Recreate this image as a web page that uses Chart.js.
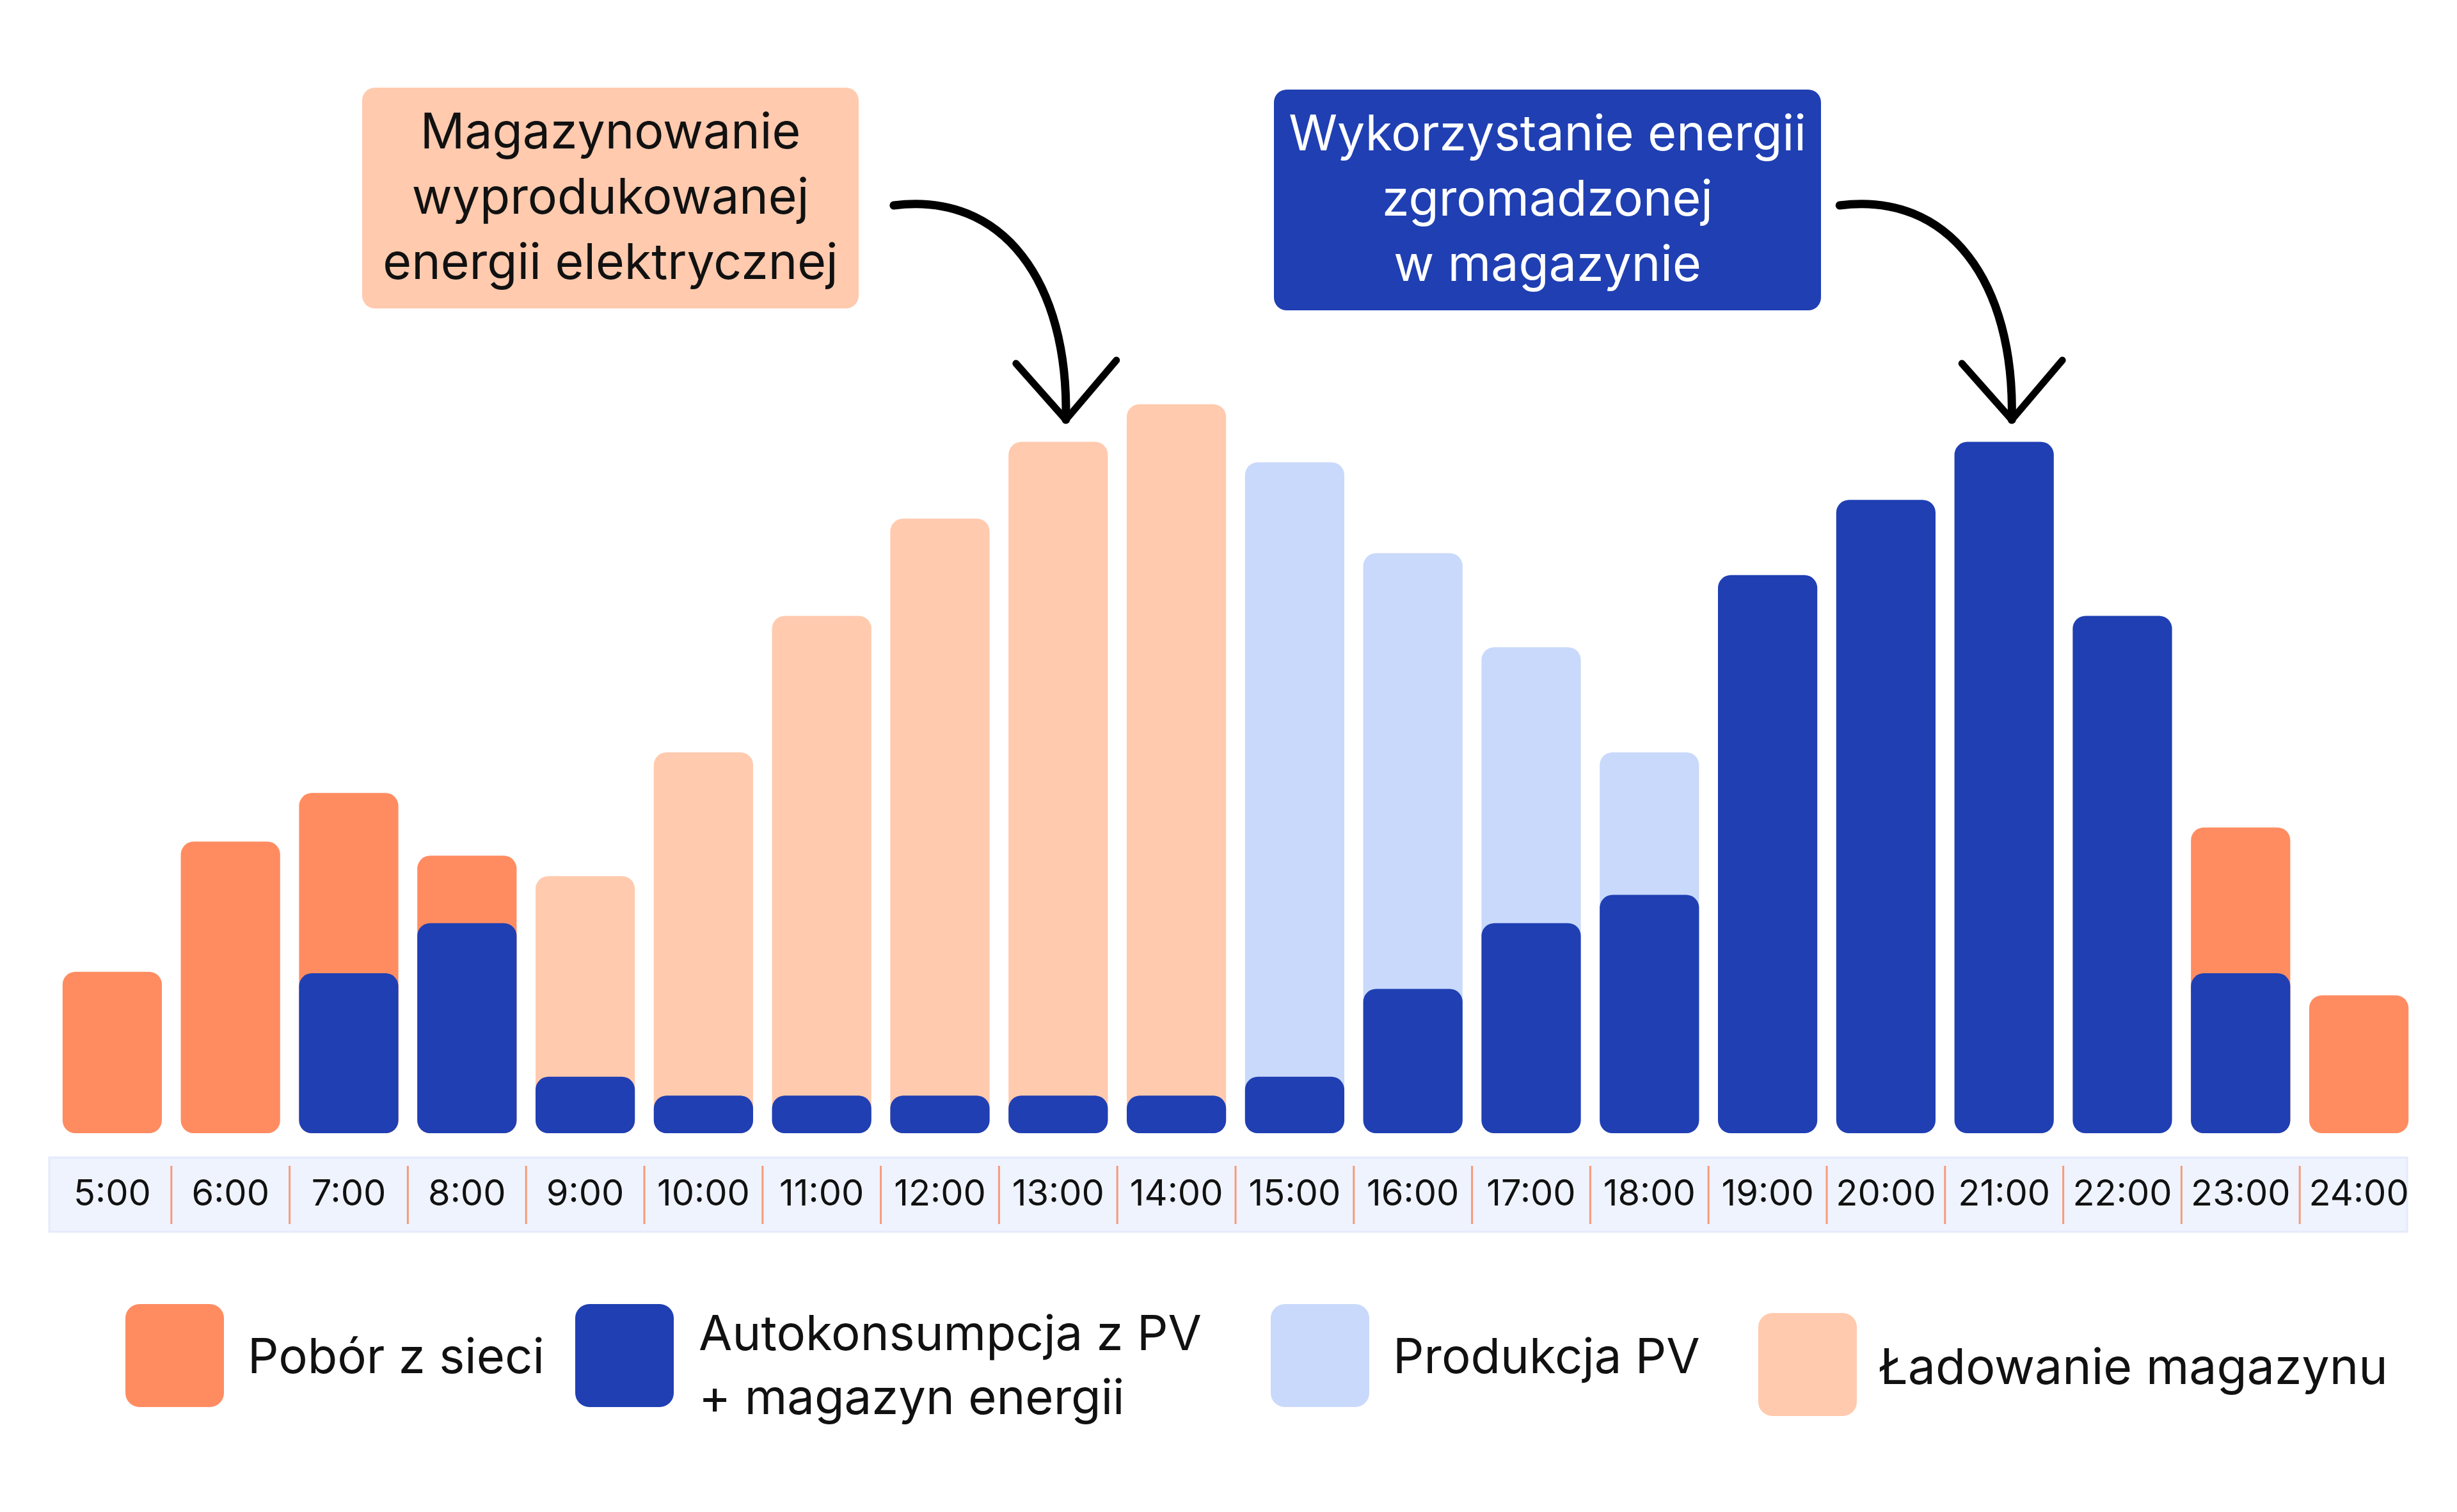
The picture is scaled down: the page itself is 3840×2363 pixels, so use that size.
<!DOCTYPE html>
<html lang="pl">
<head>
  <meta charset="UTF-8">
  <title>Magazyn energii - profil dobowy</title>
  <script src="https://cdn.jsdelivr.net/npm/chart.js"></script>
  <style>
    body { margin: 0; background: #fff; overflow: hidden; font-family: Inter, "Noto Sans", sans-serif; color: #111; }
    #wrap { position: relative; width: 3840px; height: 2363px; }
    #wrap canvas { position: absolute; left: 0; top: 0; }
    .note { position: absolute; box-sizing: border-box; padding-bottom: 8px; border-radius: 20px; font-size: 77px;
            line-height: 102px; text-align: center; display: flex; align-items: center; justify-content: center; }
    .sw { position: absolute; width: 154px; height: 161px; border-radius: 22px; }
    .lt { position: absolute; font-size: 76px; line-height: 100px; white-space: nowrap; }
  </style>
</head>
<body>
  <div id="wrap">
    <canvas id="chart"></canvas>

    <!-- Opisy nad wykresem -->
    <div class="note" style="left:566px; top:137px; width:776px; height:345px; background:#FFCAAE;">
      Magazynowanie<br>wyprodukowanej<br>energii elektrycznej
    </div>
    <div class="note" style="left:1991px; top:140px; width:855px; height:345px; background:#1F3FB3; color:#fff;">
      Wykorzystanie energii<br>zgromadzonej<br>w magazynie
    </div>

    <!-- Legenda -->
    <div class="sw" style="left:196px; top:2038px; background:#FF8C61;"></div>
    <div class="lt" style="left:387px; top:2068px;">Pobór z sieci</div>
    <div class="sw" style="left:899px; top:2038px; background:#1F3FB3;"></div>
    <div class="lt" style="left:1092px; top:2032px;">Autokonsumpcja z PV<br>+ magazyn energii</div>
    <div class="sw" style="left:1986px; top:2038px; background:#C9D9FB;"></div>
    <div class="lt" style="left:2177px; top:2068px;">Produkcja PV</div>
    <div class="sw" style="left:2748px; top:2052px; background:#FFCAAE;"></div>
    <div class="lt" style="left:2936px; top:2085px; font-size:77px;">Ładowanie magazynu</div>
  </div>

  <script>
    // godziny
    const hours = ['5:00', '6:00', '7:00', '8:00', '9:00', '10:00', '11:00', '12:00', '13:00', '14:00',
                   '15:00', '16:00', '17:00', '18:00', '19:00', '20:00', '21:00', '22:00', '23:00', '24:00'];

    // wartosci (jednostki umowne)
    const autokonsumpcja = [0, 0, 1.02, 1.34, 0.36, 0.24, 0.24, 0.24, 0.24, 0.24,
                            0.36, 0.92, 1.34, 1.52, 3.56, 4.04, 4.41, 3.30, 1.02, 0];
    const poborZSieci    = [1.03, 1.86, 1.15, 0.43, 0, 0, 0, 0, 0, 0,
                            0, 0, 0, 0, 0, 0, 0, 0, 0.93, 0.88];
    const produkcjaPV    = [0, 0, 0, 0, 0, 0, 0, 0, 0, 0,
                            3.92, 2.78, 1.76, 0.91, 0, 0, 0, 0, 0, 0];
    const ladowanie      = [0, 0, 0, 0, 1.28, 2.19, 3.06, 3.68, 4.17, 4.41,
                            0, 0, 0, 0, 0, 0, 0, 0, 0, 0];

    const colors = {
      pobor: '#FF8C61',
      auto: '#1F3FB3',
      pv: '#C9D9FB',
      ladowanie: '#FFCAAE'
    };

    // segment lezy na niebieskiej czesci, wiec slupek rysujemy od zera do sumy
    function onTop(seg) {
      return seg.map((v, i) => v > 0 ? autokonsumpcja[i] + v : null);
    }

    // pasek pod osia z godzinami i separatorami (przed osiami, zeby etykiety byly na wierzchu)
    const hourStrip = {
      id: 'hourStrip',
      beforeDraw(chart) {
        const ctx = chart.ctx;
        const x = chart.scales.x;
        const b = chart.chartArea.bottom;
        ctx.save();
        ctx.fillStyle = '#EFF3FE';
        ctx.strokeStyle = '#E4EAFB';
        ctx.lineWidth = 3;
        ctx.fillRect(x.left - 6, b + 38, x.right - x.left - 11, 116);
        ctx.strokeRect(x.left - 6, b + 38, x.right - x.left - 11, 116);
        ctx.strokeStyle = '#F59B79';
        ctx.lineWidth = 3;
        for (let i = 0; i < hours.length - 1; i++) {
          const px = (x.getPixelForValue(i) + x.getPixelForValue(i + 1)) / 2;
          ctx.beginPath();
          ctx.moveTo(px, b + 51);
          ctx.lineTo(px, b + 142);
          ctx.stroke();
        }
        ctx.restore();
      }
    };

    // strzalki od opisow do slupkow 13:00 i 21:00
    const arrows = {
      id: 'arrows',
      afterDraw(chart) {
        const ctx = chart.ctx;
        const x = chart.scales.x;
        ctx.save();
        ctx.strokeStyle = '#000';
        ctx.lineCap = 'round';
        ctx.lineJoin = 'round';
        [8, 16].forEach(idx => {
          const tx = x.getPixelForValue(idx) + 12;
          const ty = 656;
          ctx.lineWidth = 13;
          ctx.beginPath();
          ctx.moveTo(tx - 269, 321);
          ctx.bezierCurveTo(tx - 98, 299, tx + 5, 441, tx, ty);
          ctx.stroke();
          ctx.lineWidth = 11;
          ctx.beginPath();
          ctx.moveTo(tx - 78, 568);
          ctx.lineTo(tx, ty);
          ctx.lineTo(tx + 79, 563);
          ctx.stroke();
        });
        ctx.restore();
      }
    };

    const ctx = document.getElementById('chart').getContext('2d');
    new Chart(ctx, {
      type: 'bar',
      data: {
        labels: hours,
        datasets: [
          { label: 'Autokonsumpcja z PV + magazyn energii', data: autokonsumpcja.map(v => v > 0 ? v : null), backgroundColor: colors.auto },
          { label: 'Pobór z sieci', data: onTop(poborZSieci), backgroundColor: colors.pobor },
          { label: 'Produkcja PV', data: onTop(produkcjaPV), backgroundColor: colors.pv },
          { label: 'Ładowanie magazynu', data: onTop(ladowanie), backgroundColor: colors.ladowanie }
        ]
      },
      options: {
        responsive: true,
        maintainAspectRatio: false,
        animation: false,
        devicePixelRatio: 1,
        layout: { padding: { left: 83, right: 61, top: 546, bottom: 392 } },
        datasets: {
          bar: {
            grouped: false,
            barPercentage: 0.84,
            categoryPercentage: 1.0,
            borderRadius: 20,
            borderSkipped: false
          }
        },
        plugins: {
          legend: { display: false },
          tooltip: { enabled: false }
        },
        scales: {
          x: {
            grid: { display: false, drawTicks: false },
            border: { display: false },
            ticks: {
              color: '#111',
              padding: 63,
              font: { family: 'Inter', size: 56 }
            },
            afterFit(scale) { scale.height = 200; }
          },
          y: {
            display: false,
            min: 0,
            max: 5
          }
        }
      },
      plugins: [hourStrip, arrows]
    });
  </script>
</body>
</html>
